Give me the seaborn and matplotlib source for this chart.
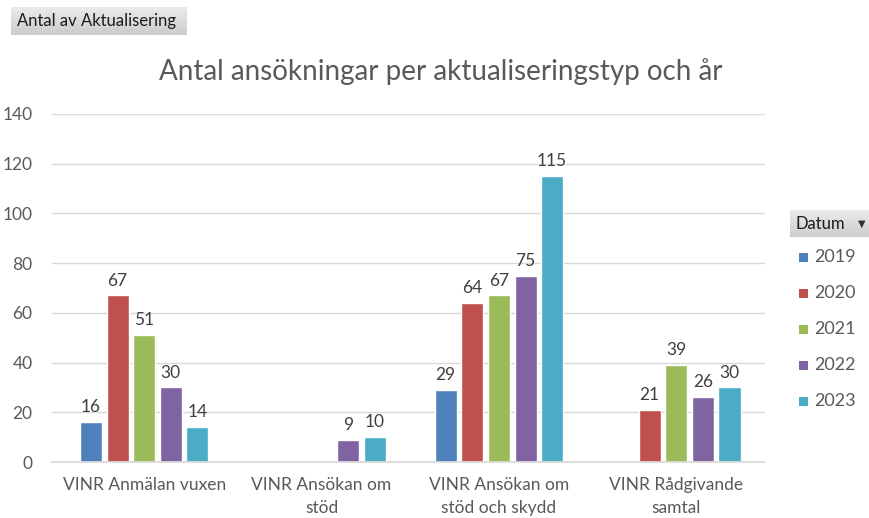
import numpy as np
import pandas as pd
import matplotlib
matplotlib.use("Agg")
import matplotlib.pyplot as plt
from matplotlib.patches import Rectangle
import seaborn as sns

categories = ["VINR Anmälan vuxen", "VINR Ansökan om\nstöd",
              "VINR Ansökan om\nstöd och skydd", "VINR Rådgivande\nsamtal"]
years = ["2019", "2020", "2021", "2022", "2023"]
v2019 = [16, None, 29, None]
v2020 = [67, None, 64, 21]
v2021 = [51, None, 67, 39]
v2022 = [30, 9, 75, 26]
v2023 = [14, 10, 115, 30]
y_ticks = [0, 20, 40, 60, 80, 100, 120, 140]
palette = ["#4F81BD", "#C0504D", "#9BBB59", "#8064A2", "#4BACC6"]

rows = []
for yr, vals in zip(years, [v2019, v2020, v2021, v2022, v2023]):
    for cat, v in zip(categories, vals):
        if v is not None:
            rows.append({"Kategori": cat, "Datum": yr, "Antal": v})
df = pd.DataFrame(rows)

sns.set_theme(style="white")
plt.rcParams["font.family"] = ["Lato", "DejaVu Sans"]

fig = plt.figure(figsize=(8.7, 5.18), dpi=100)
ax = fig.add_axes([0.0598, 0.108, 0.8195, 0.672])

sns.barplot(data=df, x="Kategori", y="Antal", hue="Datum", order=categories,
            hue_order=years, palette=palette, width=0.75, gap=0.17,
            saturation=1, errorbar=None, ax=ax, legend=False)

for cont in ax.containers:
    ax.bar_label(cont, fmt="%d", padding=5, fontsize=12.5, color="#404040")

ax.set_ylim(0, 140)
ax.set_yticks(y_ticks)
ax.set_xlim(-0.52, 3.5)
ax.set_xlabel("")
ax.set_ylabel("")
ax.grid(axis="y", color="#D9D9D9", linewidth=1)
ax.set_axisbelow(True)
for s in ["top", "right", "left"]:
    ax.spines[s].set_visible(False)
ax.spines["bottom"].set_color("#D9D9D9")
ax.tick_params(axis="both", length=0, labelsize=12.5, labelcolor="#595959")
ax.tick_params(axis="y", pad=14)
ax.tick_params(axis="x", pad=11)
ax.set_xticks(range(len(categories)))
ax.set_xticklabels(categories, linespacing=1.5)

fig.text(0.507, 0.862, "Antal ansökningar per aktualiseringstyp och år",
         ha="center", va="center", fontsize=20, color="#595959")


def gradient_button(x0, y0, w, h):
    bax = fig.add_axes([x0, y0, w, h])
    grad = np.linspace(0.92, 0.80, 64).reshape(-1, 1)
    bax.imshow(np.dstack([grad, grad, grad]), aspect="auto",
               extent=[0, 1, 0, 1], origin="upper")
    bax.set_axis_off()
    return bax


gradient_button(11 / 870, 1 - 35 / 518, 176 / 870, 28 / 518)
fig.text(17 / 870, 1 - 21 / 518, "Antal av Aktualisering", ha="left",
         va="center", fontsize=12, color="#1a1a1a")

gradient_button(790 / 870, 1 - 237 / 518, 80 / 870, 27 / 518)
fig.text(796 / 870, 1 - 224 / 518, "Datum", ha="left", va="center",
         fontsize=12, color="#1a1a1a")
fig.text(862 / 870, 1 - 224 / 518, "\u25BC", ha="center", va="center",
         fontsize=7, color="#333333", family=["DejaVu Sans"])

for i, (yr, col) in enumerate(zip(years, palette)):
    yc = 1 - (257 + i * 36) / 518
    fig.patches.append(Rectangle((799 / 870, yc - 4.5 / 518), 9 / 870, 9 / 518,
                                 transform=fig.transFigure, facecolor=col,
                                 edgecolor="none"))
    fig.text(814 / 870, yc, yr, ha="left", va="center", fontsize=13,
             color="#595959")

fig.savefig("out.png", dpi=100)
